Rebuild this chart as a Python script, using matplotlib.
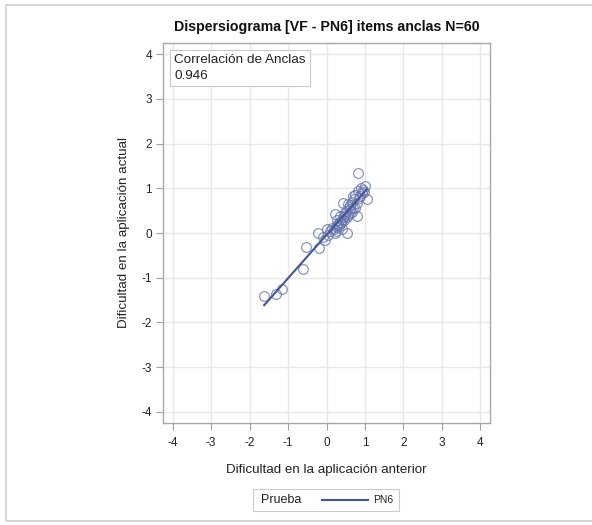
import numpy as np
import matplotlib
matplotlib.use("Agg")
import matplotlib.pyplot as plt
from matplotlib.lines import Line2D
from matplotlib.patches import Rectangle

plt.rcParams['font.family'] = ['Liberation Sans', 'DejaVu Sans']
plt.rcParams['axes.unicode_minus'] = False

# item difficulties: previous application (x) vs current application (y)
dif_anterior = [-1.62, -1.31, -1.15, -0.60, -0.53, -0.19, -0.21, -0.04, -0.08, 0.02,
                0.22, 0.26, 0.22, 0.35, 0.44, 0.54, 0.57, 0.61, 0.53, 0.74,
                0.79, 0.70, 0.83, 1.00, 1.05, 0.96, 0.83, 0.30, 0.35, 0.40,
                0.45, 0.48, 0.50, 0.55, 0.60, 0.65, 0.68, 0.72, 0.75, 0.88,
                0.92, 0.20, 0.25, 0.28, 0.10, 0.15, 0.40, 0.62, 0.78, 0.85,
                0.98, 0.05, 0.32, 0.42, 0.58, 0.38, 0.66, 0.27, 0.47, 0.90]
dif_actual = [-1.40, -1.37, -1.26, -0.80, -0.31, -0.33, 0.00, -0.16, -0.10, 0.08,
              0.00, 0.13, 0.42, 0.38, 0.68, 0.00, 0.64, 0.53, 0.35, 0.57,
              0.38, 0.83, 0.94, 1.05, 0.75, 0.96, 1.35, 0.20, 0.25, 0.30,
              0.28, 0.45, 0.50, 0.40, 0.62, 0.70, 0.55, 0.75, 0.85, 0.82,
              0.90, 0.10, 0.05, 0.30, 0.05, 0.12, 0.10, 0.45, 0.68, 0.78,
              0.92, -0.05, 0.15, 0.36, 0.58, 0.22, 0.48, 0.18, 0.40, 1.00]
correlacion = 0.946
ticks = [-4, -3, -2, -1, 0, 1, 2, 3, 4]

x = np.array(dif_anterior)
y = np.array(dif_actual)
slope, intercept = np.polyfit(x, y, 1)
xs = np.array([x.min(), x.max()])

fig = plt.figure(figsize=(5.92, 5.25), dpi=100)
fig.patches.append(Rectangle((6 / 592, 4 / 525), 1.2, 1 - 9 / 525, transform=fig.transFigure,
                             fill=False, edgecolor='#d0d0d0', linewidth=1.2))

ax = fig.add_axes([163 / 592, 1 - 423 / 525, 327 / 592, 380 / 525])
ax.set_xlim(-4.25, 4.25)
ax.set_ylim(-4.25, 4.25)
ax.set_xticks(ticks)
ax.set_yticks(ticks)
ax.grid(True, color='#e8e8e8', linewidth=1.0)
ax.set_axisbelow(True)
for s in ax.spines.values():
    s.set_color('#a8a8a8')
    s.set_linewidth(1.0)
ax.tick_params(length=5, width=0.8, color='#a0a0a0', labelsize=8.5, labelcolor='#222222', pad=3)
ax.tick_params(axis='x', pad=5)

ax.plot(x, y, 'o', markersize=7, markerfacecolor='none', markeredgecolor='#6675ad',
        markeredgewidth=0.8, alpha=0.85)
ax.plot(xs, slope * xs + intercept, color='#445694', linewidth=1.5)

ax.set_xlabel('Dificultad en la aplicación anterior', fontsize=9.6, color='#222222', labelpad=11)
ax.set_ylabel('Dificultad en la aplicación actual', fontsize=9.6, color='#222222', labelpad=8)
ax.set_title('Dispersiograma [VF - PN6] items anclas N=60', fontsize=10.2, fontweight='bold',
             color='#111111', pad=9)

ax.text(0.035, 0.972, f'Correlación de Anclas\n{correlacion:.3f}',
        transform=ax.transAxes, ha='left', va='top', fontsize=9.7, color='#222222', linespacing=1.45,
        bbox=dict(boxstyle='square,pad=0.3', facecolor='white', edgecolor='#c8c8c8', linewidth=0.8))

# legend at bottom
lx0, ly0, lw, lh = 253 / 592, 1 - 511 / 525, 146 / 592, 22 / 525
fig.patches.append(Rectangle((lx0, ly0), lw, lh, transform=fig.transFigure,
                             fill=False, edgecolor='#cccccc', linewidth=0.8))
fig.text(261 / 592, ly0 + lh / 2, 'Prueba', ha='left', va='center', fontsize=9, color='#222222')
fig.lines.append(Line2D([322 / 592, 368 / 592], [ly0 + lh / 2] * 2, transform=fig.transFigure,
                        color='#445694', linewidth=1.5))
fig.text(373 / 592, ly0 + lh / 2, 'PN6', ha='left', va='center', fontsize=7.5, color='#222222')

fig.savefig('out.png', dpi=100)
